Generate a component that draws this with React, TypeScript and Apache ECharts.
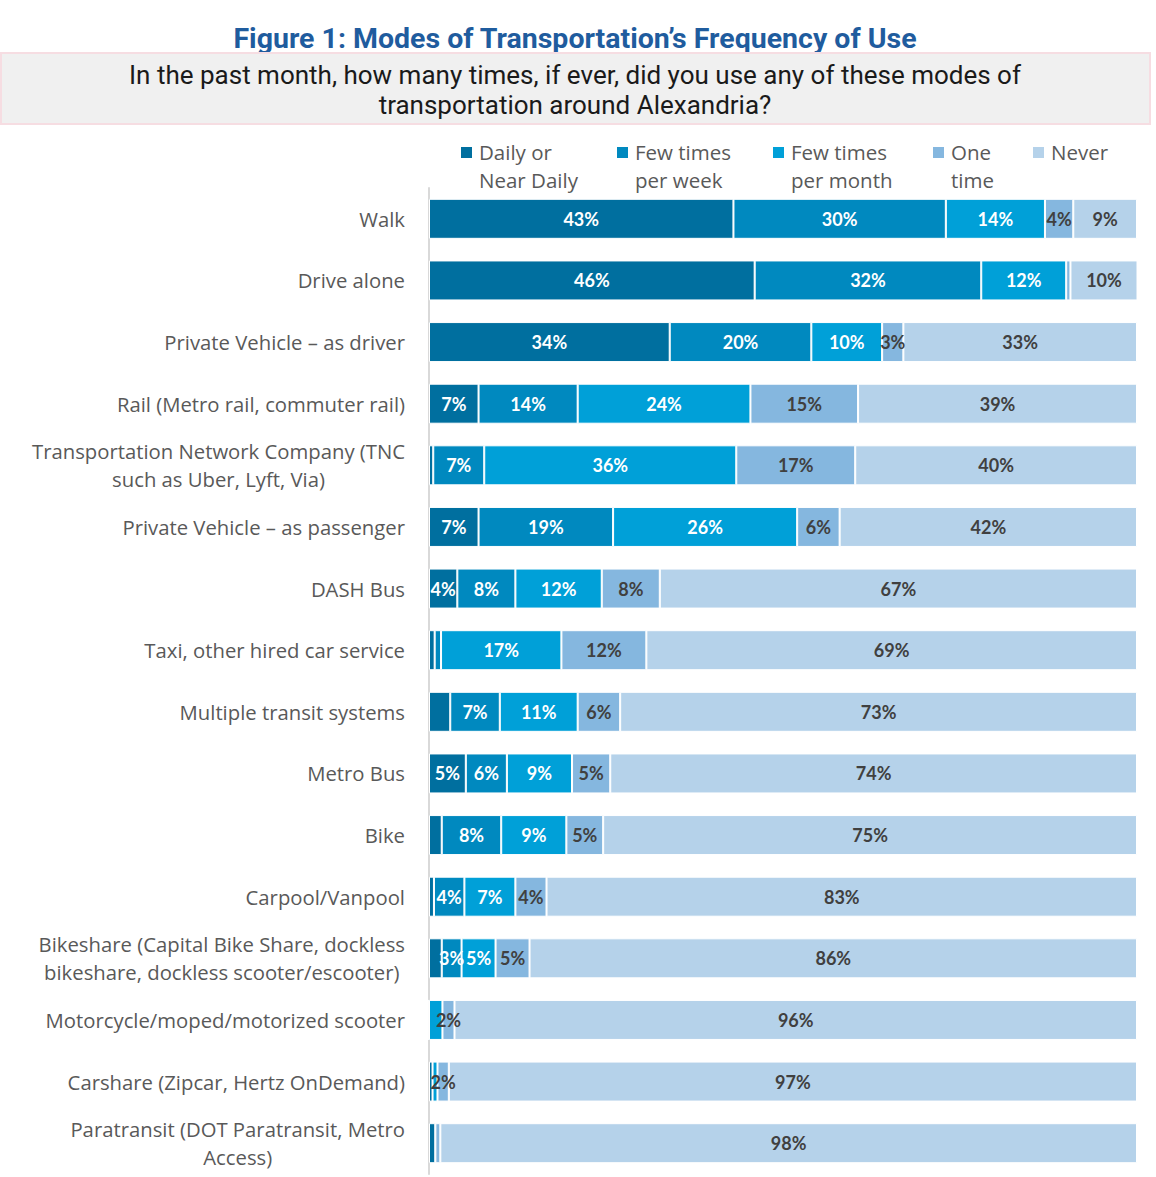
import React, { useEffect, useRef } from "react";
import * as echarts from "echarts";

const categories = [
  "Walk",
  "Drive alone",
  "Private Vehicle – as driver",
  "Rail (Metro rail, commuter rail)",
  "Transportation Network Company (TNC\nsuch as Uber, Lyft, Via)",
  "Private Vehicle – as passenger",
  "DASH Bus",
  "Taxi, other hired car service",
  "Multiple transit systems",
  "Metro Bus",
  "Bike",
  "Carpool/Vanpool",
  "Bikeshare (Capital Bike Share, dockless\nbikeshare, dockless scooter/escooter)",
  "Motorcycle/moped/motorized scooter",
  "Carshare (Zipcar, Hertz OnDemand)",
  "Paratransit (DOT Paratransit, Metro\nAccess)",
];

const seriesNames = [
  "Daily or\nNear Daily",
  "Few times\nper week",
  "Few times\nper month",
  "One\ntime",
  "Never",
];

const daily = [43, 46, 34, 7, 0.6, 7, 4, 0.8, 3, 5.2, 1.8, 0.7, 1.8, 0, 0.5, 0.9];
const perWeek = [30, 32, 20, 14, 7.2, 19, 8.2, 0.9, 7, 5.8, 8.4, 4.3, 2.8, 0, 0, 0];
const perMonth = [14, 12, 10, 24.4, 35.6, 26, 12.2, 17, 11, 9.2, 9.2, 7.2, 4.8, 1.9, 0.7, 0];
const oneTime = [4, 0.6, 3, 15.2, 16.8, 6, 8.2, 12, 6, 5.4, 5.2, 4.4, 4.8, 1.7, 1.6, 0.7];
const never = [9, 9.6, 33, 39.4, 39.8, 42, 67.4, 69.3, 73, 74.4, 75.4, 83.4, 85.8, 96.4, 97.2, 98.4];

// [seriesIndex, categoryIndex] of segments whose label is not printed
const hiddenLabels = [
  [0, 8],
  [0, 10],
  [0, 12],
  [2, 13],
];

const colors = ["#006F9F", "#0089BF", "#00A0D8", "#85B7DF", "#B5D2EA"];

const legendX = [461, 617, 773, 933, 1033];

export default function App() {
  const ref = useRef<HTMLDivElement>(null);

  useEffect(() => {
    const chart = echarts.init(ref.current!, null, { renderer: "svg" });
    const values = [daily, perWeek, perMonth, oneTime, never];

    const series = values.map((arr, si) => ({
      name: seriesNames[si].replace("\n", " "),
      type: "bar",
      stack: "total",
      barWidth: 40,
      itemStyle: { color: colors[si], borderColor: "#ffffff", borderWidth: 1 },
      label: {
        show: true,
        position: "inside",
        formatter: (p: any) => Math.round(p.value) + "%",
        color: si < 3 ? "#ffffff" : "#404040",
        fontFamily: "Lato",
        fontWeight: "bold",
        fontSize: 18,
      },
      data: arr.map((v, ci) => {
        const hide =
          Math.round(v) < 2 || hiddenLabels.some(([s, c]) => s === si && c === ci);
        return hide ? { value: v, label: { show: false } } : v;
      }),
    }));

    const legendGraphics: any[] = [];
    seriesNames.forEach((n, i) => {
      legendGraphics.push({
        type: "rect",
        shape: { x: legendX[i], y: 147, width: 11, height: 11 },
        style: { fill: colors[i] },
      });
      legendGraphics.push({
        type: "text",
        x: legendX[i] + 18,
        y: 138,
        style: {
          text: n,
          fontFamily: "Open Sans",
          fontSize: 20.5,
          lineHeight: 28,
          fill: "#595959",
        },
      });
    });

    const labelFont = {
      fontFamily: "Open Sans",
      fontSize: 20.3,
      lineHeight: 28,
      color: "#595959",
    };

    chart.setOption({
      animation: false,
      backgroundColor: "#ffffff",
      grid: { left: 429, right: 19, top: 188, bottom: 3 },
      xAxis: {
        type: "value",
        min: 0,
        max: 100,
        show: false,
      },
      yAxis: {
        type: "category",
        data: categories,
        inverse: true,
        axisLine: { show: true, lineStyle: { color: "#D9D9D9", width: 2 } },
        axisTick: { show: false },
        axisLabel: {
          margin: 24,
          ...labelFont,
          formatter: (v: string) =>
            v.indexOf("\n") >= 0
              ? v
                  .split("\n")
                  .map((l) => "{c|" + l + "}")
                  .join("\n")
              : v,
          rich: {
            c: { ...labelFont, align: "center" },
          },
        },
      },
      graphic: [
        {
          type: "text",
          x: 575,
          y: 38,
          style: {
            text: "Figure 1: Modes of Transportation’s Frequency of Use",
            fontFamily: "Roboto",
            fontWeight: "bold",
            fontSize: 28.5,
            fill: "#1F5C9E",
            textAlign: "center",
            textVerticalAlign: "middle",
          },
        },
        {
          type: "rect",
          shape: { x: 1, y: 53, width: 1149, height: 71 },
          style: { fill: "#F0F0F0", stroke: "#F6DDE2", lineWidth: 2 },
        },
        {
          type: "text",
          x: 575,
          y: 90,
          style: {
            text: "In the past month, how many times, if ever, did you use any of these modes of\ntransportation around Alexandria?",
            fontFamily: "Roboto",
            fontSize: 26,
            lineHeight: 30,
            fill: "#1A1A1A",
            textAlign: "center",
            textVerticalAlign: "middle",
          },
        },
        ...legendGraphics,
      ],
      series,
    });

    return () => chart.dispose();
  }, []);

  return (
    <div
      ref={ref}
      style={{ position: "absolute", left: 0, top: 0, width: 1156, height: 1177 }}
    />
  );
}
